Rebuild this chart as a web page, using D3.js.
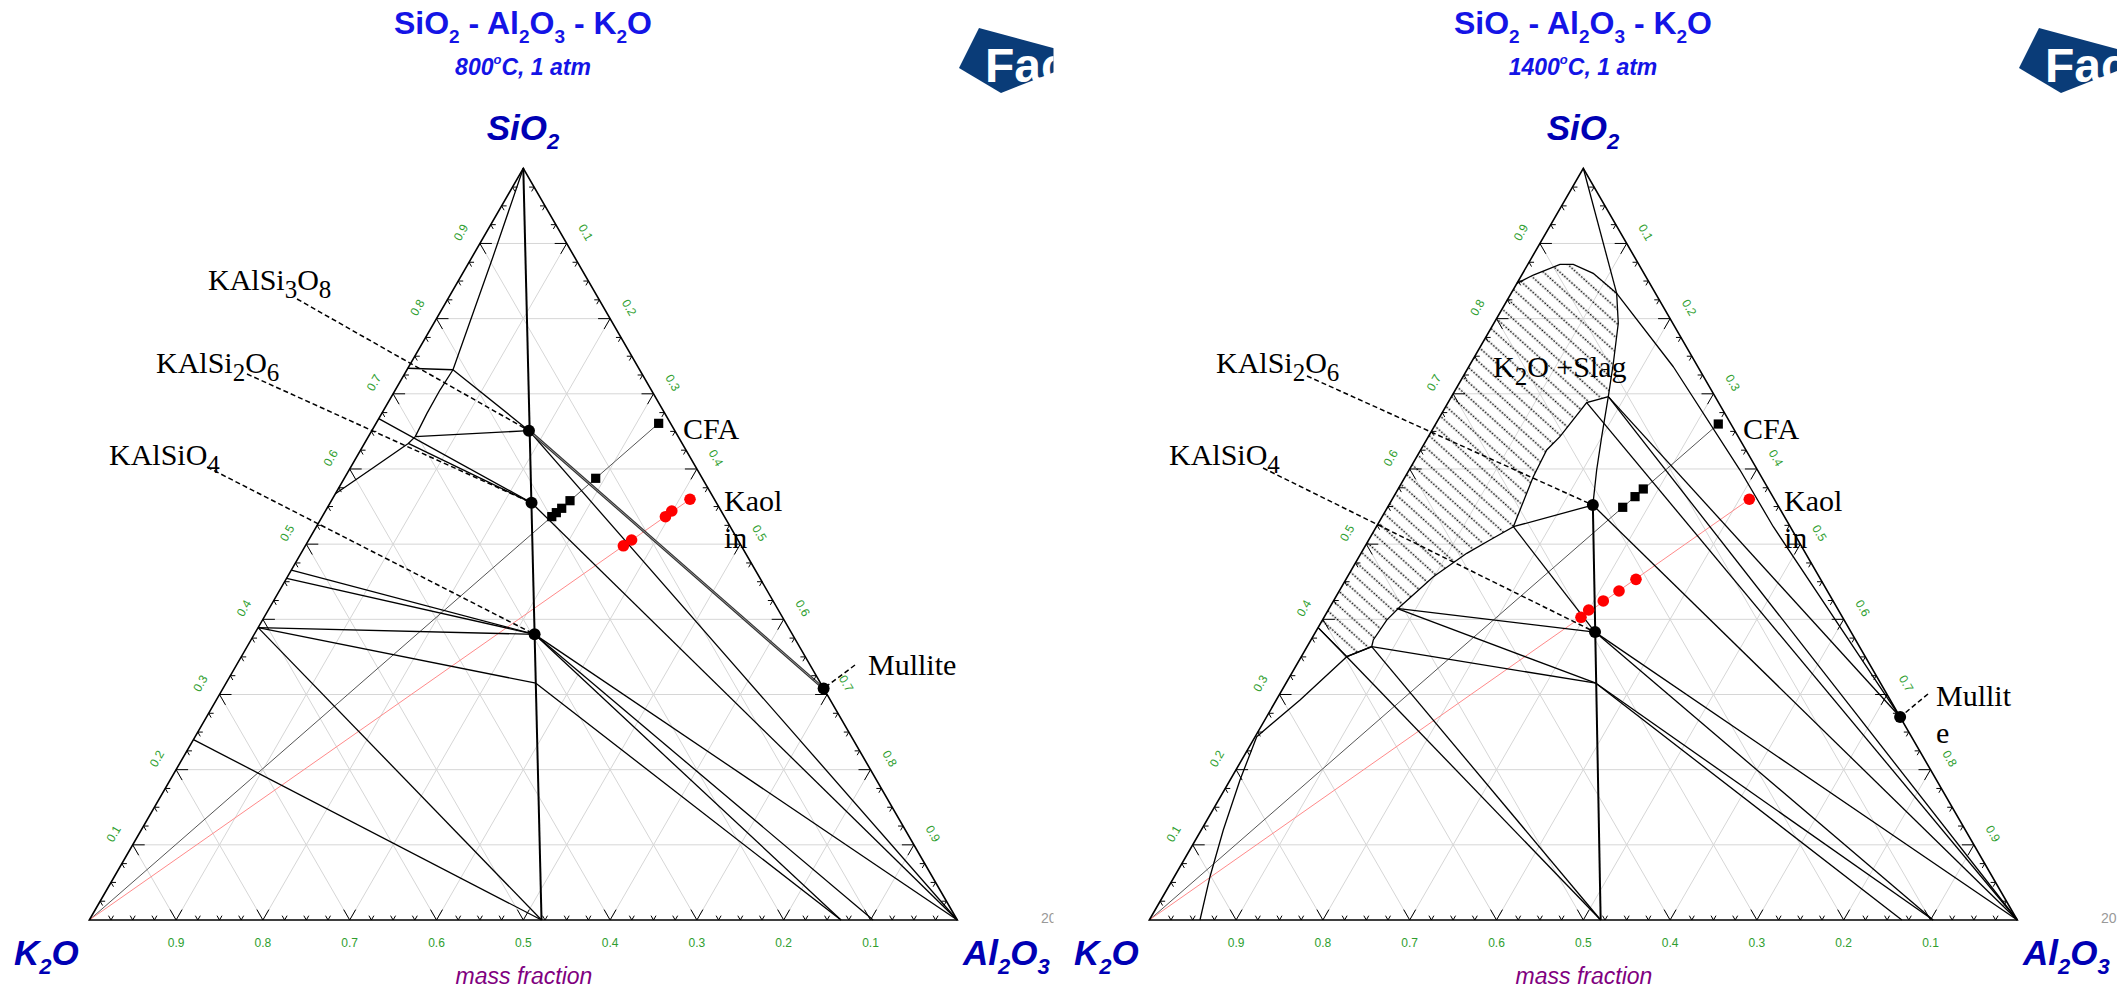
<!DOCTYPE html>
<html><head><meta charset="utf-8">
<script src="https://cdn.jsdelivr.net/npm/d3@7/dist/d3.min.js"></script>
<style>body{margin:0;background:#fff}svg{display:block}</style>
</head><body>
<svg id="c" width="2117" height="991"></svg>
<script>
// ---------------- DATA ([SiO2, Al2O3] mass fractions; K2O = rest) ----------------
const tickValues = [0.1,0.2,0.3,0.4,0.5,0.6,0.7,0.8,0.9];
const tickLabels = ["0.1","0.2","0.3","0.4","0.5","0.6","0.7","0.8","0.9"];

// 800 C panel
const lCompounds = [[0.651,0.181],[0.555,0.232],[0.380,0.323],[0.308,0.692]];
const lCFA = [[0.6607,0.3256],[0.5876,0.2896],[0.5578,0.2749],[0.5477,0.2704],[0.5419,0.2671],[0.5366,0.2645]];
const lKaolin = [[0.5597,0.4122],[0.5441,0.399],[0.5365,0.3955],[0.5055,0.372],[0.4978,0.3664]];
const lMainLine = [[1,0],[0,0.521]];
const lGrayLines = [[[0.651,0.181],[0.308,0.692]]];
const lLines = [
  [[1,0],[0.882,0.024],[0.732,0.053],[0.705,0.0515],[0.674,0.052],[0.643,0.054]],
  [[0.734,0],[0.732,0.053]],
  [[0.732,0.053],[0.651,0.181]],
  [[0.643,0.054],[0.651,0.181]],
  [[0.643,0.054],[0.634,0.0505],[0.60,0.025],[0.567,0]],
  [[0.667,0],[0.555,0.232]],
  [[0.634,0.0505],[0.555,0.232]],
  [[0.651,0.181],[0,1]],
  [[0.555,0.232],[0,1]],
  [[0.4656,0],[0.380,0.323]],
  [[0.4546,0],[0.380,0.323]],
  [[0.389,0],[0.380,0.323]],
  [[0.389,0],[0.315,0.357]],
  [[0.389,0],[0,0.521]],
  [[0.240,0],[0,0.521]],
  [[0.380,0.323],[0,1]],
  [[0.380,0.323],[0,0.903]],
  [[0.380,0.323],[0,0.866]],
  [[0.315,0.357],[0,0.866]]
];

// 1400 C panel
const rCompounds = [[0.552,0.235],[0.383,0.322],[0.270,0.730]];
const rCFA = [[0.6598,0.3256],[0.5734,0.2824],[0.5632,0.278],[0.549,0.2709]];
const rKaolin = [[0.5597,0.4114],[0.4532,0.3341],[0.4377,0.3223],[0.4244,0.3108],[0.4124,0.300],[0.4027,0.296]];
const rMainLine = [[0.552,0.235],[0,0.520]];
const rSlag = [[0.847,0],[0.858,0.0134],[0.8723,0.037],[0.8723,0.0523],[0.8603,0.0813],[0.8337,0.1216],
  [0.7938,0.1434],[0.7406,0.1643],[0.6962,0.1807],[0.6882,0.1598],[0.643,0.1516],[0.6253,0.1452],
  [0.5897,0.1475],[0.5454,0.1544],[0.5232,0.1578],[0.5055,0.1397],[0.4878,0.1218],[0.4567,0.0989],
  [0.4168,0.0804],[0.399,0.074],[0.3725,0.0718],[0.3636,0.0744],[0.3503,0.0523],[0.389,0]];
const rGrayLines = [];
const rLines = [
  [[1,0],[0.8337,0.1216]],
  [[0.8337,0.1216],[0.736,0.2357],[0.5986,0.3812],[0.5232,0.4573],[0.270,0.730]],
  [[0.6962,0.1807],[0.270,0.730]],
  [[0.6962,0.1807],[0,1]],
  [[0.6882,0.1598],[0,1]],
  [[0.6962,0.1807],[0.643,0.1997],[0.5986,0.2161],[0.552,0.235]],
  [[0.552,0.235],[0,1]],
  [[0.5232,0.1578],[0.552,0.235]],
  [[0.5232,0.1578],[0.383,0.322]],
  [[0.4146,0.0778],[0.383,0.322]],
  [[0.4146,0.0778],[0.315,0.357]],
  [[0.3636,0.0744],[0.315,0.357]],
  [[0.3636,0.0744],[0,0.520]],
  [[0.3503,0.0523],[0,0.520]],
  [[0.389,0],[0.3503,0.0523]],
  [[0,0.0584],[0.0576,0.0411],[0.1197,0.0254],[0.1862,0.0114],[0.2439,0.0018],[0.2927,0.0273],[0.3503,0.0523],[0.3636,0.0744]],
  [[0.383,0.322],[0,1]],
  [[0.383,0.322],[0,0.903]],
  [[0.315,0.357],[0,0.867]],
  [[0.315,0.357],[0,0.903]]
];

// ---------------- LAYOUT ----------------
const SIDE = 868, BASE_Y = 920;
const svg = d3.select("#c");
const defs = svg.append("defs");

const panels = [
  {ox:0, x0:89.3, clipW:1053.5, temp:"800", compounds:lCompounds, cfa:lCFA, kaolin:lKaolin,
   main:lMainLine, gray:lGrayLines, lines:lLines, slag:null,
   labels:[
     {segs:[["KAlSi",0],["3",1],["O",0],["8",1]], x:208, y:290, from:[297,299], to:0},
     {segs:[["KAlSi",0],["2",1],["O",0],["6",1]], x:156, y:373, from:[247,374], to:1},
     {segs:[["KAlSiO",0],["4",1]], x:109, y:465, from:[207,467], to:2},
     {segs:[["Mullite",0]], x:868, y:675, from:[855,665], to:3}
   ]},
  {ox:1060, x0:1149.3, clipW:1057, temp:"1400", compounds:rCompounds, cfa:rCFA, kaolin:rKaolin,
   main:rMainLine, gray:rGrayLines, lines:rLines, slag:rSlag,
   labels:[
     {segs:[["KAlSi",0],["2",1],["O",0],["6",1]], x:156, y:373, from:[247,376], to:0},
     {segs:[["KAlSiO",0],["4",1]], x:109, y:465, from:[203,468], to:1},
     {segs:[["K",0],["2",1],["O +Slag",0]], x:433, y:377},
     {segs:[["Mullit",0]], x:876, y:706, from:[868,694], to:2},
     {segs:[["e",0]], x:876, y:743}
   ]}
];

function addText(g, segs, x, y, size, subSize, shift, attrs) {
  const t = g.append("text").attr("x", x).attr("y", y).attr("font-size", size);
  Object.entries(attrs).forEach(([k,v]) => t.attr(k, v));
  let down = false;
  segs.forEach(([s, sub]) => {
    const ts = t.append("tspan").text(s);
    if (sub && !down) { ts.attr("dy", shift).attr("font-size", subSize); down = true; }
    else if (sub && down) { ts.attr("font-size", subSize); }
    else if (!sub && down) { ts.attr("dy", -shift); down = false; }
  });
  return t;
}

panels.forEach((p, pi) => {
  const cid = "clip" + pi;
  defs.append("clipPath").attr("id", cid).append("rect")
    .attr("x", p.ox).attr("y", 0).attr("width", p.clipW).attr("height", 991);
  const g = svg.append("g").attr("clip-path", `url(#${cid})`);

  const xs = d3.scaleLinear().domain([0,1]).range([p.x0, p.x0 + SIDE]);
  const ys = d3.scaleLinear().domain([0,1]).range([BASE_Y, BASE_Y - SIDE*Math.sqrt(3)/2]);
  const T = d => [xs(d[1] + d[0]/2), ys(d[0])];
  const line = d3.line().x(d => T(d)[0]).y(d => T(d)[1]);

  // grid
  const grid = g.append("g").attr("stroke", "#d6d6d6").attr("stroke-width", 1).attr("fill", "none");
  tickValues.forEach(v => {
    grid.append("path").attr("d", line([[v,0],[v,1-v]]));
    grid.append("path").attr("d", line([[0,v],[1-v,v]]));
    grid.append("path").attr("d", line([[0,1-v],[1-v,0]]));
  });

  // slag (hatched) region
  if (p.slag) {
    const pid = "hatch" + pi;
    const pat = defs.append("pattern").attr("id", pid).attr("patternUnits", "userSpaceOnUse")
      .attr("width", 96).attr("height", 11).attr("patternTransform", "rotate(42)");
    pat.append("line").attr("x1", 0).attr("x2", 96).attr("y1", 5.5).attr("y2", 5.5)
      .attr("stroke", "#000").attr("stroke-width", 1.5).attr("stroke-dasharray", "1.6,1.6");
    g.append("path").attr("d", line(p.slag) + "Z").attr("fill", `url(#${pid})`).attr("stroke", "none");
    g.append("path").attr("d", line(p.slag)).attr("fill", "none")
      .attr("stroke", "#000").attr("stroke-width", 1.3);
  }

  // mixing lines
  g.append("path").attr("d", line([[0,0], p.cfa[0]])).attr("stroke", "#555").attr("stroke-width", 1).attr("fill", "none");
  g.append("path").attr("d", line([[0,0], p.kaolin[0]])).attr("stroke", "#ff8a8a").attr("stroke-width", 1).attr("fill", "none");

  // phase boundary lines
  const lg = g.append("g").attr("fill", "none").attr("stroke", "#000").attr("stroke-width", 1.3)
    .attr("stroke-linejoin", "round");
  p.lines.forEach(l => lg.append("path").attr("d", line(l)));
  p.gray.forEach(l => {
    lg.append("path").attr("d", line(l)).attr("stroke", "#333").attr("stroke-width", 2.8);
    lg.append("path").attr("d", line(l)).attr("stroke", "#aaa").attr("stroke-width", 0.8);
  });
  lg.append("path").attr("d", line(p.main)).attr("stroke-width", 2);

  // triangle edges
  g.append("path").attr("d", line([[0,0],[0,1],[1,0]]) + "Z").attr("fill", "none")
    .attr("stroke", "#000").attr("stroke-width", 1.6);

  // ticks
  const tk = g.append("g").attr("stroke", "#000").attr("stroke-width", 1).attr("fill", "none");
  for (let i = 1; i < 40; i++) {
    const t = i / 40, L = (i % 4 === 0) ? 12 : 5;
    let [x, y] = T([0, t]);
    tk.append("path").attr("d", `M${x-0.5*L},${y-0.866*L}L${x},${y}L${x+0.5*L},${y-0.866*L}`);
    [x, y] = T([t, 0]);
    tk.append("path").attr("d", `M${x+L},${y}L${x},${y}L${x+0.5*L},${y+0.866*L}`);
    [x, y] = T([t, 1-t]);
    tk.append("path").attr("d", `M${x-L},${y}L${x},${y}L${x-0.5*L},${y+0.866*L}`);
  }

  // tick labels
  const tl = g.append("g").attr("fill", "#2e9e2e").attr("font-family", "Liberation Sans, Arial, sans-serif")
    .attr("font-size", 12).attr("text-anchor", "middle").attr("dominant-baseline", "central");
  tickValues.forEach((v, i) => {
    let [x, y] = T([0, 1 - v]);
    tl.append("text").attr("x", x).attr("y", y + 23).text(tickLabels[i]);
    [x, y] = T([v, 0]);
    const lx = x - 0.866*22, ly = y - 0.5*22;
    tl.append("text").attr("transform", `translate(${lx},${ly}) rotate(-60)`).text(tickLabels[i]);
    [x, y] = T([1 - v, v]);
    const rx = x + 0.866*22, ry = y - 0.5*22;
    tl.append("text").attr("transform", `translate(${rx},${ry}) rotate(60)`).text(tickLabels[i]);
  });

  // leader lines
  p.labels.forEach(lb => {
    if (lb.from) {
      const [tx, ty] = T(p.compounds[lb.to]);
      g.append("line").attr("x1", p.ox + lb.from[0]).attr("y1", lb.from[1]).attr("x2", tx).attr("y2", ty)
        .attr("stroke", "#000").attr("stroke-width", 1.5).attr("stroke-dasharray", "5,3");
    }
  });

  // markers
  g.selectAll(".sq").data(p.cfa).enter().append("rect")
    .attr("x", d => T(d)[0] - 4.6).attr("y", d => T(d)[1] - 4.6).attr("width", 9.2).attr("height", 9.2).attr("fill", "#000");
  g.selectAll(".rd").data(p.kaolin).enter().append("circle")
    .attr("cx", d => T(d)[0]).attr("cy", d => T(d)[1]).attr("r", 5.8).attr("fill", "#ff0000");
  g.selectAll(".cp").data(p.compounds).enter().append("circle")
    .attr("cx", d => T(d)[0]).attr("cy", d => T(d)[1]).attr("r", 6).attr("fill", "#000");

  // labels
  const serif = {"font-family": "Liberation Serif, Times New Roman, serif", "fill": "#000"};
  p.labels.forEach(lb => addText(g, lb.segs, p.ox + lb.x, lb.y, 30, 25, 8, serif));
  addText(g, [["CFA",0]], p.ox + 683, 439, 30, 25, 8, serif);
  addText(g, [["Kaol",0]], p.ox + 724, 511, 30, 25, 8, serif);
  addText(g, [["in",0]], p.ox + 724, 548, 30, 25, 8, serif);

  // titles
  const sansB = {"font-family": "Liberation Sans, Arial, sans-serif", "font-weight": "bold", "fill": "#1414e6", "text-anchor": "middle"};
  addText(g, [["SiO",0],["2",1],[" - Al",0],["2",1],["O",0],["3",1],[" - K",0],["2",1],["O",0]], p.ox + 523, 34, 32, 19, 9, sansB);
  const st = g.append("text").attr("x", p.ox + 523).attr("y", 75).attr("font-size", 23)
    .attr("font-family", "Liberation Sans, Arial, sans-serif").attr("font-weight", "bold").attr("font-style", "italic")
    .attr("fill", "#1414e6").attr("text-anchor", "middle");
  st.append("tspan").text(p.temp);
  st.append("tspan").text("o").attr("font-size", 13).attr("dy", -11);
  st.append("tspan").text("C, 1 atm").attr("dy", 11);

  const corner = {"font-family": "Liberation Sans, Arial, sans-serif", "font-weight": "bold", "font-style": "italic", "fill": "#0000b4"};
  addText(g, [["SiO",0],["2",1]], p.ox + 523, 140, 35, 22, 9, Object.assign({"text-anchor": "middle"}, corner));
  addText(g, [["K",0],["2",1],["O",0]], p.ox + 14, 965, 35, 22, 9, corner);
  addText(g, [["Al",0],["2",1],["O",0],["3",1]], p.ox + 963, 965, 35, 22, 9, corner);

  g.append("text").attr("x", p.ox + 524).attr("y", 984).attr("font-size", 23).attr("text-anchor", "middle")
    .attr("font-family", "Liberation Sans, Arial, sans-serif").attr("font-style", "italic").attr("fill", "#800080")
    .text("mass fraction");
  g.append("text").attr("x", p.ox + 1041).attr("y", 923).attr("font-size", 14).attr("fill", "#999")
    .attr("font-family", "Liberation Sans, Arial, sans-serif").text("2017");

  // logo
  g.append("path").attr("d", `M${p.ox+959},68L${p.ox+979},28L${p.ox+1090},58L${p.ox+1001},93Z`).attr("fill", "#0a3c78");
  g.append("text").attr("x", p.ox + 985).attr("y", 82).attr("font-size", 48).attr("font-weight", "bold")
    .attr("font-family", "Liberation Sans, Arial, sans-serif").attr("fill", "#fff").text("Fac");
});
</script>
</body></html>
